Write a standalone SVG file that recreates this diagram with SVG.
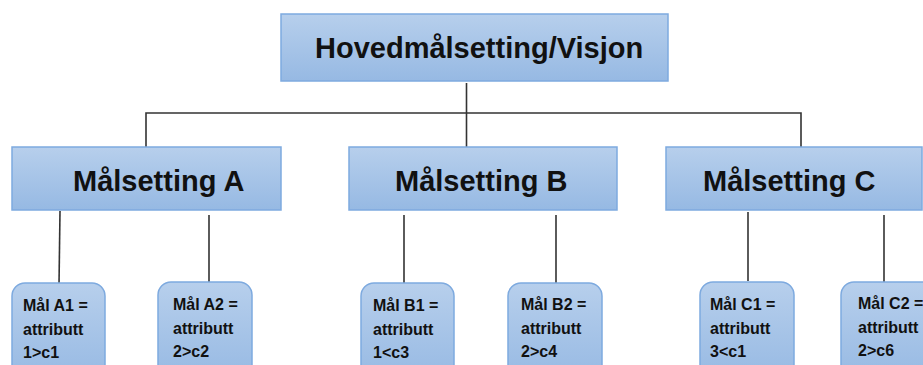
<svg xmlns="http://www.w3.org/2000/svg" width="923" height="365" viewBox="0 0 923 365">
<defs>
<linearGradient id="g" x1="0" y1="0" x2="0" y2="1">
<stop offset="0" stop-color="#b7cfec"/>
<stop offset="1" stop-color="#96b9e3"/>
</linearGradient>
</defs>
<style>
.box{fill:url(#g);stroke:#7eaadf;stroke-width:1.5}
.big{font-family:"Liberation Sans",Arial,sans-serif;font-weight:bold;font-size:29px;fill:#111}
.small{font-family:"Liberation Sans",Arial,sans-serif;font-weight:bold;font-size:16px;fill:#111}
.conn{stroke:#333333;stroke-width:1.6;fill:none}
</style>
<rect width="923" height="365" fill="#ffffff"/>
<g id="connectors">
<line class="conn" x1="466.5" y1="83" x2="466.5" y2="147"/>
<polyline class="conn" points="146,148 146,113 801,113 801,147"/>
<line class="conn" x1="60" y1="211" x2="59" y2="285"/>
<line class="conn" x1="209" y1="215" x2="209" y2="283"/>
<line class="conn" x1="404" y1="215" x2="404" y2="283"/>
<line class="conn" x1="556" y1="215" x2="556" y2="283"/>
<line class="conn" x1="748" y1="212" x2="748" y2="281"/>
<line class="conn" x1="884" y1="215" x2="884" y2="283"/>
</g>
<g id="top">
<rect class="box" x="281" y="14" width="387" height="67"/>
<text class="big" x="315" y="58">Hovedmålsetting/Visjon</text>
</g>
<g id="malA">
<rect class="box" x="12" y="147" width="269" height="63"/>
<text class="big" x="73" y="191">Målsetting A</text>
</g>
<g id="malB">
<rect class="box" x="349" y="147" width="268" height="63"/>
<text class="big" x="395" y="191">Målsetting B</text>
</g>
<g id="malC">
<rect class="box" x="666" y="147" width="256" height="63"/>
<text class="big" x="703" y="191">Målsetting C</text>
</g>
<g id="A1">
<rect class="box" x="12" y="283" width="93" height="100" rx="13"/>
<text class="small" x="23" y="311">Mål A1 =</text>
<text class="small" x="23" y="335">attributt</text>
<text class="small" x="23" y="358">1&gt;c1</text>
</g>
<g id="A2">
<rect class="box" x="158" y="282" width="94" height="100" rx="13"/>
<text class="small" x="173" y="310">Mål A2 =</text>
<text class="small" x="173" y="334">attributt</text>
<text class="small" x="173" y="357">2&gt;c2</text>
</g>
<g id="B1">
<rect class="box" x="361" y="283" width="93" height="100" rx="13"/>
<text class="small" x="373" y="311">Mål B1 =</text>
<text class="small" x="373" y="335">attributt</text>
<text class="small" x="373" y="358">1&lt;c3</text>
</g>
<g id="B2">
<rect class="box" x="508" y="283" width="94" height="100" rx="13"/>
<text class="small" x="521" y="310">Mål B2 =</text>
<text class="small" x="521" y="334">attributt</text>
<text class="small" x="521" y="357">2&gt;c4</text>
</g>
<g id="C1">
<rect class="box" x="700" y="282" width="94" height="100" rx="13"/>
<text class="small" x="710" y="310">Mål C1 =</text>
<text class="small" x="710" y="334">attributt</text>
<text class="small" x="710" y="357">3&lt;c1</text>
</g>
<g id="C2">
<rect class="box" x="841" y="282" width="100" height="100" rx="13"/>
<text class="small" x="858" y="309">Mål C2 =</text>
<text class="small" x="858" y="333">attributt</text>
<text class="small" x="858" y="356">2&gt;c6</text>
</g>
</svg>
